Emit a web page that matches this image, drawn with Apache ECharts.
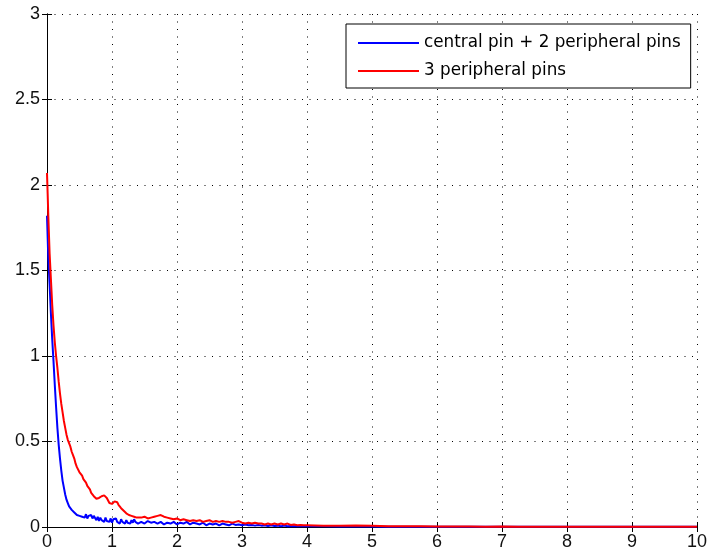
<!DOCTYPE html>
<html>
<head>
<meta charset="utf-8">
<script src="https://cdn.jsdelivr.net/npm/echarts@6/dist/echarts.min.js"></script>
<style>
  html, body { margin: 0; padding: 0; background: #fff; }
  #chart { width: 710px; height: 557px; }
</style>
</head>
<body>
<div id="chart"></div>
<script>
// Sample positions (time axis), shared by both traces
const xs = [
  0, 0.01, 0.02, 0.04, 0.06, 0.08, 0.10, 0.12, 0.14, 0.16,
  0.18, 0.20, 0.22, 0.24, 0.26, 0.28, 0.30, 0.32, 0.34, 0.36,
  0.38, 0.40, 0.42, 0.44, 0.46, 0.48, 0.50, 0.52, 0.54, 0.56,
  0.58, 0.60, 0.62, 0.64, 0.66, 0.68, 0.70, 0.72, 0.74, 0.76,
  0.78, 0.80, 0.82, 0.84, 0.86, 0.88, 0.90, 0.92, 0.94, 0.96,
  0.98, 1.00, 1.02, 1.04, 1.06, 1.08, 1.10, 1.12, 1.14, 1.16,
  1.18, 1.20, 1.22, 1.24, 1.26, 1.28, 1.30, 1.32, 1.34, 1.36,
  1.38, 1.40,
  1.45, 1.50, 1.55, 1.60, 1.65, 1.70, 1.75, 1.80, 1.85, 1.90,
  1.95, 2.00, 2.05, 2.10, 2.15, 2.20, 2.25, 2.30, 2.35, 2.40,
  2.45, 2.50, 2.55, 2.60, 2.65, 2.70, 2.75, 2.80, 2.85, 2.90,
  2.95, 3.00, 3.05, 3.10, 3.15, 3.20, 3.25, 3.30, 3.35, 3.40,
  3.45, 3.50, 3.55, 3.60, 3.65, 3.70, 3.75, 3.80, 3.85, 3.90,
  3.95, 4.00,
  4.25, 4.50, 4.75, 5.00, 5.25, 5.50, 5.75, 6.00, 6.25, 6.50,
  6.75, 7.00, 7.25, 7.50, 7.75, 8.00, 8.25, 8.50, 8.75, 9.00,
  9.25, 9.50, 9.75, 10.00
];

// central pin + 2 peripheral pins
const blueVals = [
  1.82, 1.82, 1.57, 1.42, 1.25, 1.10, 0.97, 0.83, 0.70, 0.58,
  0.48, 0.40, 0.33, 0.27, 0.23, 0.19, 0.16, 0.14, 0.12, 0.11,
  0.10, 0.095, 0.085, 0.09, 0.07, 0.08, 0.065, 0.075, 0.06, 0.07,
  0.055, 0.075, 0.05, 0.065, 0.06, 0.07, 0.05, 0.065, 0.055, 0.04,
  0.06, 0.035, 0.055, 0.04, 0.05, 0.03, 0.055, 0.035, 0.045, 0.03,
  0.05, 0.025, 0.045, 0.035, 0.05, 0.03, 0.04, 0.02, 0.045, 0.03,
  0.035, 0.02, 0.04, 0.025, 0.035, 0.02, 0.04, 0.025, 0.045, 0.03,
  0.035, 0.02,
  0.03, 0.02, 0.035, 0.025, 0.03, 0.02, 0.03, 0.015, 0.025, 0.02,
  0.03, 0.015, 0.025, 0.02, 0.03, 0.015, 0.025, 0.02, 0.015, 0.025,
  0.01, 0.02, 0.015, 0.02, 0.01, 0.02, 0.015, 0.01, 0.02, 0.012,
  0.015, 0.01, 0.015, 0.01, 0.012, 0.008, 0.012, 0.008, 0.01, 0.006,
  0.01, 0.006, 0.008, 0.005, 0.008, 0.005, 0.006, 0.004, 0.006, 0.004,
  0.005, 0.004,
  0.004, 0.003, 0.004, 0.003, 0.002, 0.002, 0.002, 0.001, 0.001, 0.001,
  0.001, 0.001, 0.001, 0.001, 0.001, 0.001, 0.001, 0.001, 0.001, 0.001,
  0.001, 0.001, 0.001, 0.001
];

// 3 peripheral pins
const redVals = [
  2.07, 1.95, 1.82, 1.60, 1.45, 1.30, 1.18, 1.08, 1.00, 0.93,
  0.85, 0.78, 0.72, 0.67, 0.62, 0.58, 0.54, 0.51, 0.50, 0.47,
  0.44, 0.42, 0.40, 0.37, 0.35, 0.34, 0.32, 0.31, 0.30, 0.28,
  0.27, 0.26, 0.24, 0.235, 0.22, 0.20, 0.19, 0.18, 0.17, 0.165,
  0.16, 0.17, 0.175, 0.18, 0.19, 0.185, 0.18, 0.17, 0.16, 0.14,
  0.13, 0.135, 0.14, 0.15, 0.15, 0.145, 0.13, 0.12, 0.11, 0.10,
  0.095, 0.085, 0.08, 0.075, 0.07, 0.075, 0.065, 0.07, 0.06, 0.065,
  0.055, 0.06,
  0.055, 0.06, 0.05, 0.055, 0.06, 0.065, 0.07, 0.06, 0.055, 0.05,
  0.045, 0.05, 0.04, 0.045, 0.04, 0.035, 0.04, 0.035, 0.04, 0.03,
  0.035, 0.04, 0.03, 0.035, 0.03, 0.035, 0.03, 0.03, 0.025, 0.03,
  0.035, 0.025, 0.02, 0.025, 0.02, 0.025, 0.02, 0.02, 0.015, 0.02,
  0.015, 0.02, 0.015, 0.02, 0.015, 0.02, 0.012, 0.015, 0.01, 0.012,
  0.01, 0.01,
  0.008, 0.007, 0.009, 0.008, 0.005, 0.004, 0.004, 0.003, 0.003, 0.003,
  0.002, 0.003, 0.002, 0.002, 0.002, 0.002, 0.002, 0.002, 0.002, 0.002,
  0.002, 0.002, 0.002, 0.002
];

const seriesNames = ['central pin + 2 peripheral pins', '3 peripheral pins'];
const xTicks = [0, 1, 2, 3, 4, 5, 6, 7, 8, 9, 10];
const yTickLabels = ['0', '0.5', '1', '1.5', '2', '2.5', '3'];

const pairs = vals => xs.map((x, i) => [x, vals[i]]);

const labelFont = { fontFamily: 'Liberation Sans, Arial, sans-serif', fontSize: 18, color: '#111' };
const dotted = { show: true, lineStyle: { color: '#000', width: 1, type: [1, 6.5] } };
const frame = { show: true, lineStyle: { color: '#000', width: 1 } };
const inTicks = { show: true, inside: true, length: 5, lineStyle: { color: '#000', width: 1 } };

const chart = echarts.init(document.getElementById('chart'), null, { renderer: 'canvas' });
chart.setOption({
  animation: false,
  backgroundColor: '#fff',
  grid: { left: 47, right: 9, top: 14, bottom: 30, containLabel: false },
  xAxis: [
    {
      type: 'value', position: 'bottom', min: 0, max: 10, interval: 1,
      axisLine: frame, axisTick: inTicks, splitLine: dotted,
      axisLabel: Object.assign({ margin: 6, formatter: v => String(xTicks[Math.round(v)]) }, labelFont)
    },
    {
      type: 'value', position: 'top', min: 0, max: 10, interval: 1,
      axisLine: frame, axisTick: inTicks, splitLine: { show: false }, axisLabel: { show: false }
    }
  ],
  yAxis: [
    {
      type: 'value', position: 'left', min: 0, max: 3, interval: 0.5,
      axisLine: frame, axisTick: inTicks, splitLine: dotted,
      axisLabel: Object.assign({ margin: 7, formatter: v => yTickLabels[Math.round(v * 2)] }, labelFont)
    },
    {
      type: 'value', position: 'right', min: 0, max: 3, interval: 0.5,
      axisLine: frame, axisTick: inTicks, splitLine: { show: false }, axisLabel: { show: false }
    }
  ],
  legend: {
    orient: 'vertical',
    left: 346, top: 24,
    padding: [9, 10, 7, 12],
    itemGap: 8,
    itemWidth: 61, itemHeight: 2,
    icon: 'rect',
    backgroundColor: '#fff',
    borderColor: '#000', borderWidth: 1,
    textStyle: { fontFamily: 'DejaVu Sans, sans-serif', fontSize: 16.8, color: '#000', lineHeight: 20, padding: [0, 0, 0, 0] },
    data: seriesNames
  },
  series: [
    {
      name: seriesNames[0], type: 'line', data: pairs(blueVals),
      showSymbol: false, symbol: 'none',
      lineStyle: { color: '#0000ff', width: 2 }, itemStyle: { color: '#0000ff' }
    },
    {
      name: seriesNames[1], type: 'line', data: pairs(redVals),
      showSymbol: false, symbol: 'none',
      lineStyle: { color: '#ff0000', width: 2 }, itemStyle: { color: '#ff0000' }
    }
  ]
});
</script>
</body>
</html>
